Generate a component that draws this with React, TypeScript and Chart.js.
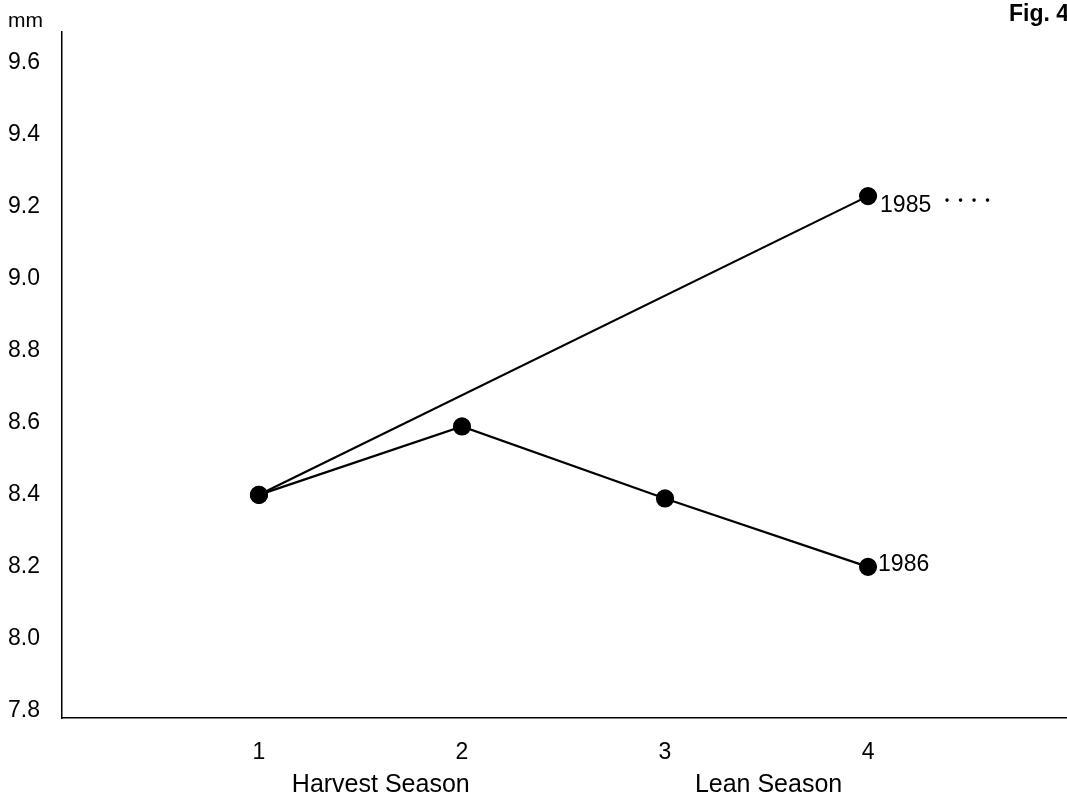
import React, { useEffect, useRef } from "react";
import { Chart, registerables } from "chart.js";

Chart.register(...registerables);

const seasons = [1, 2, 3, 4];
const values1985 = [8.4, null, null, 9.23];
const values1986 = [8.4, 8.59, 8.39, 8.2];
const yTicks = [7.8, 8.0, 8.2, 8.4, 8.6, 8.8, 9.0, 9.2, 9.4, 9.6];
const xTicks = [1, 2, 3, 4];
const seasonLabels = [
  { text: "Harvest Season", at: 1.6 },
  { text: "Lean Season", at: 3.51 },
];
const seriesNames = ["1985", "1986"];

const FONT = "'Liberation Sans', Arial, Helvetica, sans-serif";

const annotations = {
  id: "annotations",
  afterDraw(chart: any) {
    const ctx = chart.ctx;
    const xs = chart.scales.x;
    ctx.save();
    ctx.fillStyle = "#000";
    // unit label
    ctx.font = `21px ${FONT}`;
    ctx.textAlign = "left";
    ctx.textBaseline = "alphabetic";
    ctx.fillText("mm", 8, 27);
    // figure label
    ctx.font = `bold 23px ${FONT}`;
    ctx.textAlign = "right";
    ctx.fillText("Fig. 4", 1069, 21);
    // season labels
    ctx.font = `25px ${FONT}`;
    ctx.textAlign = "center";
    ctx.textBaseline = "middle";
    seasonLabels.forEach((s) => {
      ctx.fillText(s.text, xs.getPixelForValue(s.at), 785);
    });
    // series labels
    ctx.font = `23px ${FONT}`;
    ctx.textAlign = "left";
    const m0 = chart.getDatasetMeta(0).data;
    const m1 = chart.getDatasetMeta(1).data;
    const p85 = m0[m0.length - 1];
    const p86 = m1[m1.length - 1];
    ctx.fillText(seriesNames[0], p85.x + 12, p85.y + 10);
    ctx.fillText(seriesNames[1], p86.x + 10, p86.y - 2);
    // dotted marker after 1985
    for (let i = 0; i < 4; i++) {
      ctx.beginPath();
      ctx.arc(p85.x + 79 + i * 13.5, p85.y + 4, 1.8, 0, Math.PI * 2);
      ctx.fill();
    }
    ctx.restore();
  },
};

export default function App() {
  const ref = useRef<HTMLCanvasElement>(null);
  useEffect(() => {
    if (!ref.current) return;
    const pts85 = seasons
      .map((s, i) => ({ x: s, y: values1985[i] }))
      .filter((p) => p.y !== null);
    const pts86 = seasons.map((s, i) => ({ x: s, y: values1986[i] }));
    const common = {
      borderColor: "#000",
      backgroundColor: "#000",
      borderWidth: 2.2,
      pointRadius: 8,
      pointBackgroundColor: "#000",
      pointBorderColor: "#000",
      tension: 0,
    };
    const chart = new Chart(ref.current, {
      type: "line",
      data: {
        datasets: [
          { label: seriesNames[0], data: pts85 as any, ...common },
          { label: seriesNames[1], data: pts86 as any, ...common },
        ],
      },
      options: {
        responsive: false,
        animation: false,
        layout: { autoPadding: false, padding: { left: 8, top: 32, right: 1, bottom: 0 } },
        plugins: {
          legend: { display: false },
          tooltip: { enabled: false },
          title: { display: false },
        },
        scales: {
          x: {
            type: "linear",
            min: 0.03,
            max: 4.975,
            grid: { display: false, drawTicks: false },
            border: { display: true, color: "#000", width: 1.5 },
            afterBuildTicks: (scale: any) => {
              scale.ticks = xTicks.map((v) => ({ value: v }));
            },
            afterFit: (scale: any) => {
              scale.height = 86;
            },
            ticks: {
              padding: 21,
              color: "#000",
              font: { family: FONT, size: 23 },
              callback: (v: any) => String(v),
            },
          },
          y: {
            type: "linear",
            min: 7.78,
            max: 9.686,
            grid: { display: false, drawTicks: false },
            border: { display: true, color: "#000", width: 1.5 },
            afterBuildTicks: (scale: any) => {
              scale.ticks = yTicks.map((v) => ({ value: v }));
            },
            afterFit: (scale: any) => {
              scale.width = 54;
            },
            ticks: {
              crossAlign: "far",
              padding: 8,
              color: "#000",
              font: { family: FONT, size: 23 },
              callback: (v: any) => Number(v).toFixed(1),
            },
          },
        },
      },
      plugins: [annotations],
    });
    return () => chart.destroy();
  }, []);
  return (
    <div style={{ position: "absolute", left: 0, top: 0, width: 1067, height: 804, background: "#fff" }}>
      <canvas ref={ref} width={1067} height={804} style={{ display: "block" }} />
    </div>
  );
}
